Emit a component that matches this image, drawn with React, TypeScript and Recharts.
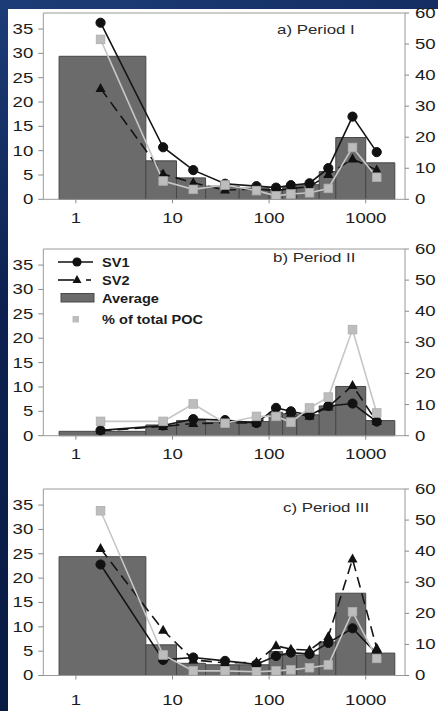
import React from 'react';
import { ComposedChart, Line, XAxis, YAxis, ReferenceArea, ReferenceLine, Legend } from 'recharts';

// size classes (x positions of points) and bin edges
const sizeClass = [1.8, 8, 16.4, 35, 74, 118, 168, 262, 410, 730, 1300];
const binLower = [0.67, 5.3, 11, 22, 49, 100, 138, 193, 330, 490, 1000];
const binUpper = [5.3, 11, 22, 49, 100, 138, 193, 330, 490, 1000, 2000];
const xTicks = [1, 10, 100, 1000];
const leftTicks = [0, 5, 10, 15, 20, 25, 30, 35];
const rightTicks = [0, 10, 20, 30, 40, 50, 60];

// Period I
const avgA = [29.4, 7.9, 4.4, 2.7, 2.3, 2.0, 2.4, 3.0, 5.7, 12.7, 7.5];
const sv1A = [36.3, 10.7, 6.0, 3.2, 2.7, 2.4, 2.9, 3.3, 6.4, 17.0, 9.7];
const sv2A = [22.8, 5.2, 3.4, 1.9, 2.1, 1.8, 2.2, 2.6, 5.1, 8.3, 6.0];
const pocA = [51.5, 5.9, 3.2, 4.6, 2.8, 1.1, 1.7, 2.1, 3.5, 16.7, 7.1];

// Period II
const avgB = [0.9, 2.2, 3.1, 2.8, 2.9, 4.8, 4.5, 4.3, 6.1, 10.1, 3.1];
const sv1B = [1.1, 2.1, 3.4, 3.2, 2.6, 5.7, 5.0, 4.2, 6.1, 6.6, 2.9];
const sv2B = [1.0, 1.9, 2.5, 2.6, 2.6, 4.5, 4.6, 4.0, 5.9, 10.3, 2.9];
const pocB = [4.6, 4.6, 10.2, 4.0, 6.2, 6.2, 4.3, 8.9, 12.4, 34.1, 7.3];

// Period III
const avgC = [24.4, 6.3, 2.5, 2.2, 2.2, 4.9, 4.2, 4.2, 6.9, 16.9, 4.6];
const sv1C = [22.8, 3.2, 3.7, 3.0, 2.3, 4.0, 4.7, 4.4, 6.7, 9.7, 4.5];
const sv2C = [26.1, 9.3, 3.2, 2.6, 2.7, 6.1, 5.4, 5.2, 8.0, 23.9, 5.6];
const pocC = [53.0, 6.6, 1.5, 1.5, 1.2, 1.5, 1.8, 2.5, 3.4, 20.5, 5.5];

const titles = ['a) Period I', 'b) Period II', 'c) Period III'];
const legendLabels = ['SV1', 'SV2', 'Average', '% of total POC'];

const FONT = '"Liberation Sans", Arial, sans-serif';
const LEFT_MAX = 38.3;

const makeTick = (sx: number) => (p: any) => (
  <text
    key={`t-${p.index}-${p.payload.value}`}
    x={0}
    y={0}
    transform={`translate(${p.x},${p.y}) scale(${sx},1)`}
    textAnchor={p.textAnchor}
    dy={p.verticalAnchor === 'start' ? '0.71em' : '0.355em'}
    fontSize={14}
    fill="#1c1c1c"
    fontFamily={FONT}
  >
    {p.payload.value}
  </text>
);
const tickFn = makeTick(1.33);

const CircleDot = (p: any) =>
  p.cx == null ? <g key={`c${p.index}`} /> : <circle key={`c${p.index}`} cx={p.cx} cy={p.cy} r={4.6} fill="#111" stroke="#111" />;
const TriDot = (p: any) =>
  p.cx == null ? <g key={`t${p.index}`} /> : (
    <path key={`t${p.index}`} d={`M${p.cx},${p.cy - 5.5}L${p.cx + 5},${p.cy + 3.5}L${p.cx - 5},${p.cy + 3.5}Z`} fill="#111" />
  );
const SqDot = (p: any) =>
  p.cx == null ? <g key={`s${p.index}`} /> : (
    <rect key={`s${p.index}`} x={p.cx - 4.3} y={p.cy - 4.3} width={8.6} height={8.6} fill="#bdbdbd" stroke="#adadad" strokeWidth={0.8} />
  );

const LegendBox = () => {
  const t = (y: number, s: string) => (
    <text x={0} y={0} transform={`translate(52,${y}) scale(1.12,1)`} dy="0.355em" fontSize={13} fontWeight="bold" fill="#1c1c1c" fontFamily={FONT}>
      {s}
    </text>
  );
  return (
    <svg width={170} height={80} style={{ display: 'block' }}>
      <line x1={8} x2={43} y1={12} y2={12} stroke="#111" strokeWidth={1.6} />
      <circle cx={27} cy={12} r={4.6} fill="#111" />
      {t(12, legendLabels[0])}
      <line x1={8} x2={24} y1={30} y2={30} stroke="#111" strokeWidth={1.6} />
      <path d="M27,25L31.5,33L22.5,33Z" fill="#111" />
      <line x1={36} x2={41} y1={30} y2={30} stroke="#111" strokeWidth={1.6} />
      {t(30, legendLabels[1])}
      <rect x={11} y={43.5} width={33} height={8.5} fill="#6b6b6b" stroke="#4a4a4a" />
      {t(48, legendLabels[2])}
      <rect x={22.5} y={66} width={6.5} height={6.5} fill="#bdbdbd" />
      {t(69, legendLabels[3])}
    </svg>
  );
};

type PanelProps = {
  top: number;
  plotH: number;
  labelGap: number;
  avg: number[];
  sv1: number[];
  sv2: number[];
  poc: number[];
  title: string;
  titleX: number;
  titleY: number;
  legend?: boolean;
};

const Panel = ({ top, plotH, labelGap, avg, sv1, sv2, poc, title, titleX, titleY, legend }: PanelProps) => {
  const data = sizeClass.map((x, i) => ({ x, sv1: sv1[i], sv2: sv2[i], poc: poc[i] }));
  const H = 240;
  const marginTop = 13;
  const xAxisH = 30;
  return (
    <div style={{ position: 'absolute', left: 0, top, width: 438, height: H }}>
      <ComposedChart
        width={438}
        height={H}
        data={data}
        margin={{ top: marginTop, right: 0, left: 0, bottom: H - marginTop - plotH - xAxisH }}
      >
        <XAxis
          dataKey="x"
          type="number"
          scale="log"
          domain={[0.46, 2550]}
          allowDataOverflow
          ticks={xTicks}
          interval={0}
          height={xAxisH}
          tickSize={4}
          tickMargin={labelGap}
          tick={tickFn}
          axisLine={{ stroke: '#9a9a9a' }}
          tickLine={{ stroke: '#8a8a8a' }}
        />
        <YAxis
          yAxisId="l"
          domain={[0, LEFT_MAX]}
          allowDataOverflow
          ticks={leftTicks}
          interval={0}
          width={43.3}
          tickSize={5}
          tickMargin={5}
          tick={tickFn}
          axisLine={{ stroke: '#9a9a9a' }}
          tickLine={{ stroke: '#8a8a8a' }}
        />
        <YAxis
          yAxisId="r"
          orientation="right"
          domain={[0, 60]}
          allowDataOverflow
          ticks={rightTicks}
          interval={0}
          width={33}
          tickSize={4}
          tickMargin={6}
          tick={tickFn}
          axisLine={{ stroke: '#9a9a9a' }}
          tickLine={{ stroke: '#8a8a8a' }}
        />
        <ReferenceLine yAxisId="r" y={60} stroke="#9a9a9a" ifOverflow="visible" />
        {binLower.map((lo, i) => (
          <ReferenceArea
            key={`bar${i}`}
            yAxisId="l"
            x1={lo}
            x2={binUpper[i]}
            y1={0}
            y2={avg[i]}
            fill="#6b6b6b"
            fillOpacity={1}
            stroke="#474747"
            strokeWidth={1}
            ifOverflow="visible"
          />
        ))}
        <Line yAxisId="l" dataKey="sv1" stroke="#151515" strokeWidth={1.6} dot={CircleDot} activeDot={false} isAnimationActive={false} />
        <Line yAxisId="l" dataKey="sv2" stroke="#151515" strokeWidth={1.6} strokeDasharray="11 6" dot={TriDot} activeDot={false} isAnimationActive={false} />
        <Line yAxisId="r" dataKey="poc" stroke="#c6c6c6" strokeWidth={1.6} dot={SqDot} activeDot={false} isAnimationActive={false} />
        {legend ? (
          <Legend
            layout="horizontal"
            verticalAlign="middle"
            align="center"
            content={() => <LegendBox />}
            wrapperStyle={{ left: 50, top: 250 - top, width: 170, height: 80 }}
          />
        ) : null}
      </ComposedChart>
      <svg width={438} height={H} style={{ position: 'absolute', left: 0, top: 0, pointerEvents: 'none' }}>
        <text x={0} y={0} transform={`translate(${titleX},${titleY - top}) scale(1.25,1)`} dy="0.355em" fontSize={13.5} fill="#2a2a2a" fontFamily={FONT}>
          {title}
        </text>
      </svg>
    </div>
  );
};

export default function App() {
  return (
    <div
      style={{
        position: 'absolute',
        left: 0,
        top: 0,
        width: 438,
        height: 711,
        background: 'linear-gradient(160deg, #1d3d78 0%, #0c2150 35%, #081a40 100%)',
        overflow: 'hidden',
      }}
    >
      <div style={{ position: 'absolute', left: 8, top: 9, width: 430, height: 702, background: '#ffffff' }} />
      <Panel top={0} plotH={186.3} labelGap={9.3} avg={avgA} sv1={sv1A} sv2={sv2A} poc={pocA} title={titles[0]} titleX={277} titleY={29} />
      <Panel top={236.3} plotH={186.7} labelGap={9.3} avg={avgB} sv1={sv1B} sv2={sv2B} poc={pocB} title={titles[1]} titleX={273} titleY={257} legend />
      <Panel top={476} plotH={186.5} labelGap={15.8} avg={avgC} sv1={sv1C} sv2={sv2C} poc={pocC} title={titles[2]} titleX={283} titleY={507} />
    </div>
  );
}
